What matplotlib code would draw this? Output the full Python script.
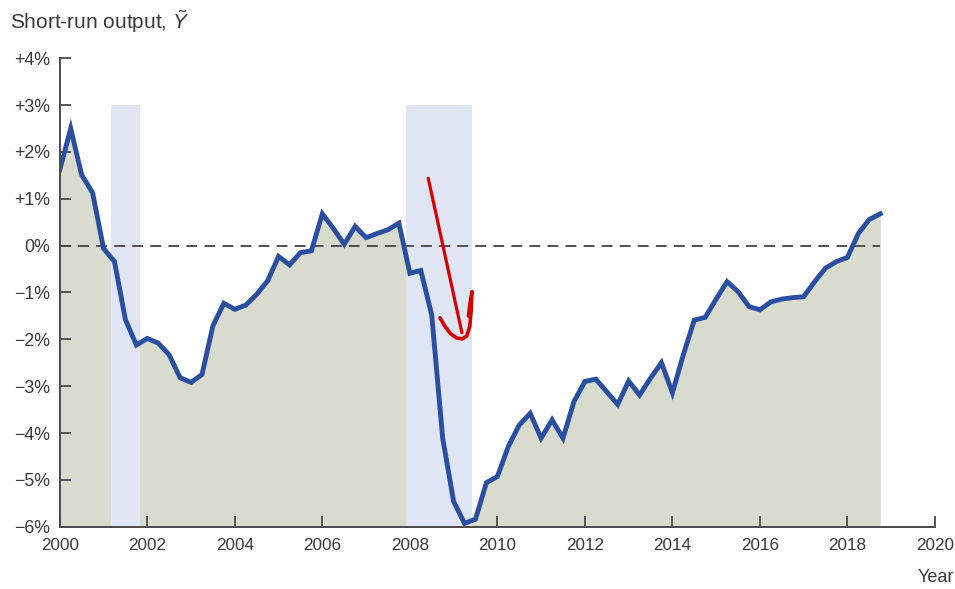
import matplotlib
matplotlib.use("Agg")
import matplotlib.pyplot as plt
import numpy as np

# ---- data ----
quarters = [2000 + 0.25 * i for i in range(76)]
output_gap = [
    1.62, 2.50, 1.51, 1.13,
    -0.06, -0.34, -1.58, -2.12,
    -1.98, -2.08, -2.33, -2.82,
    -2.92, -2.75, -1.71, -1.23,
    -1.36, -1.27, -1.04, -0.75,
    -0.23, -0.41, -0.15, -0.11,
    0.68, 0.37, 0.03, 0.41,
    0.17, 0.26, 0.34, 0.48,
    -0.59, -0.53, -1.48, -4.11,
    -5.46, -5.93, -5.84, -5.06,
    -4.93, -4.29, -3.83, -3.58,
    -4.11, -3.72, -4.11, -3.33,
    -2.90, -2.85, -3.12, -3.39,
    -2.89, -3.19, -2.83, -2.50,
    -3.14, -2.33, -1.59, -1.53,
    -1.14, -0.77, -0.98, -1.30,
    -1.37, -1.20, -1.14, -1.11,
    -1.09, -0.77, -0.48, -0.34,
    -0.25, 0.26, 0.56, 0.68,
]
recessions = [(2001.17, 2001.83), (2007.92, 2009.42)]
recession_top = 3.0

x_ticks = [2000, 2002, 2004, 2006, 2008, 2010, 2012, 2014, 2016, 2018, 2020]
y_ticks = [-6, -5, -4, -3, -2, -1, 0, 1, 2, 3, 4]
y_ticklabels = ["\u22126%", "\u22125%", "\u22124%", "\u22123%", "\u22122%", "\u22121%",
                "0%", "+1%", "+2%", "+3%", "+4%"]

# hand-drawn red annotation (data coords)
arrow_x = [2008.42, 2009.19]
arrow_y = [1.44, -1.86]
hook_x = [2008.69, 2008.80, 2008.93, 2009.07, 2009.20, 2009.30, 2009.37, 2009.40, 2009.42, 2009.38, 2009.34]
hook_y = [-1.54, -1.72, -1.88, -1.97, -1.99, -1.93, -1.72, -1.40, -0.98, -1.20, -1.50]

# ---- style ----
plt.rcParams['font.family'] = ['Liberation Sans', 'DejaVu Sans']
plt.rcParams['mathtext.fontset'] = 'custom'
plt.rcParams['mathtext.rm'] = 'Liberation Sans'
plt.rcParams['mathtext.it'] = 'Liberation Sans:italic'
text_color = '#3a3a3a'
axis_color = '#4a4a4a'

fig = plt.figure(figsize=(9.55, 5.89), dpi=100)
ax = fig.add_axes([0.0626, 0.1058, 0.9164, 0.7952])

bottom = -6
ax.fill_between(quarters, output_gap, bottom, color='#d9dbce', lw=0, zorder=1)
for a, b in recessions:
    ax.fill_between([a, b], [recession_top, recession_top], bottom,
                    color='#dfe5f3', lw=0, zorder=2)
ax.plot([quarters[0], quarters[-1]], [0, 0], color='#444444', lw=1.3,
        dashes=(6, 4), zorder=3)
ax.plot(quarters, output_gap, color='#2a4ea0', lw=3.5, zorder=4,
        solid_joinstyle='miter')

ax.plot(arrow_x, arrow_y, color='#d40000', lw=2.3, solid_capstyle='round', zorder=5)
ax.plot(hook_x, hook_y, color='#d40000', lw=2.6, solid_capstyle='round',
        solid_joinstyle='round', zorder=5)

ax.set_xlim(2000, 2020)
ax.set_ylim(-6, 4)
ax.set_xticks(x_ticks)
ax.set_xticklabels([str(t) for t in x_ticks])
ax.set_yticks(y_ticks)
ax.set_yticklabels(y_ticklabels)

for s in ['top', 'right']:
    ax.spines[s].set_visible(False)
for s in ['left', 'bottom']:
    ax.spines[s].set_color(axis_color)
    ax.spines[s].set_linewidth(1.4)
    ax.spines[s].set_zorder(6)
ax.tick_params(axis='both', direction='in', length=8, width=1.3, color=axis_color,
               labelcolor=text_color)
ax.tick_params(axis='x', pad=8, labelsize=12.3)
ax.tick_params(axis='y', pad=7, labelsize=12.8)

fig.text(10 / 955, 1 - 22 / 589, r"Short-run output, $\tilde{Y}$", fontsize=15,
         color=text_color, ha='left', va='center')
fig.text(954 / 955, 1 - 578 / 589, "Year", fontsize=13, color=text_color,
         ha='right', va='center')

fig.savefig('out.png', dpi=100)
